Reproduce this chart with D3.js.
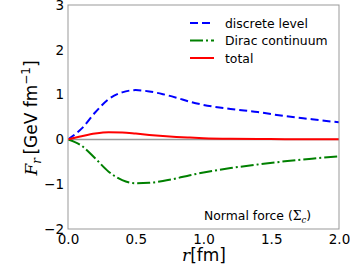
<!DOCTYPE html>
<html>
<head>
<meta charset="utf-8">
<script src="https://cdn.jsdelivr.net/npm/d3@7"></script>
<style>
  body { margin: 0; background: #fff; }
  text { font-family: "DejaVu Sans", sans-serif; }
</style>
</head>
<body>
<div id="chart"></div>
<script>
var rValues = [0, 0.1, 0.2, 0.3, 0.4, 0.5, 0.6, 0.7, 0.8, 0.9, 1.0, 1.2, 1.4, 1.6, 1.8, 2.0];
var discrete = [0, 0.24, 0.60, 0.90, 1.05, 1.10, 1.07, 1.01, 0.93, 0.84, 0.77, 0.68, 0.61, 0.52, 0.45, 0.38];
var dirac = [0, -0.14, -0.42, -0.72, -0.91, -0.98, -0.97, -0.93, -0.87, -0.80, -0.74, -0.64, -0.56, -0.49, -0.43, -0.38];
var total = [0, 0.07, 0.13, 0.16, 0.155, 0.13, 0.10, 0.075, 0.055, 0.04, 0.028, 0.015, 0.01, 0.005, 0.003, 0.002];
var xTicks = [0, 0.5, 1.0, 1.5, 2.0];
var yTicks = [-2, -1, 0, 1, 2, 3];
var seriesNames = ["discrete level", "Dirac continuum", "total"];

var width = 350, height = 266;
var margin = {left: 68, right: 11, top: 5, bottom: 37};

var svg = d3.select("#chart").append("svg")
  .attr("width", width)
  .attr("height", height);

var x = d3.scaleLinear().domain([0, 2]).range([margin.left, width - margin.right]);
var y = d3.scaleLinear().domain([-2, 3]).range([height - margin.bottom, margin.top]);

// zero line
svg.append("line")
  .attr("x1", x(0)).attr("x2", x(2))
  .attr("y1", y(0)).attr("y2", y(0))
  .attr("stroke", "#999").attr("stroke-width", 1.5);

var series = [
  {name: seriesNames[0], values: discrete, color: "#0000ff", dash: "8,4"},
  {name: seriesNames[1], values: dirac, color: "#008000", dash: "13,3,2,3"},
  {name: seriesNames[2], values: total, color: "#ff0000", dash: null}
];

var line = d3.line()
  .x(function(d) { return x(d[0]); })
  .y(function(d) { return y(d[1]); })
  .curve(d3.curveMonotoneX);

svg.append("defs").append("clipPath").attr("id", "clip")
  .append("rect")
  .attr("x", x(0)).attr("y", y(3))
  .attr("width", x(2) - x(0)).attr("height", y(-2) - y(3));

series.forEach(function(s) {
  svg.append("path")
    .datum(rValues.map(function(r, i) { return [r, s.values[i]]; }))
    .attr("d", line)
    .attr("fill", "none")
    .attr("clip-path", "url(#clip)")
    .attr("stroke", s.color)
    .attr("stroke-width", 2)
    .attr("stroke-dasharray", s.dash);
});

// frame
svg.append("rect")
  .attr("x", x(0)).attr("y", y(3))
  .attr("width", x(2) - x(0)).attr("height", y(-2) - y(3))
  .attr("fill", "none").attr("stroke", "#999").attr("stroke-width", 1);

// axes (no tick marks)
var xAxis = svg.append("g")
  .attr("transform", "translate(0," + y(-2) + ")")
  .call(d3.axisBottom(x).tickValues(xTicks).tickSize(0).tickPadding(5)
    .tickFormat(d3.format(".1f")));
xAxis.select(".domain").remove();
xAxis.selectAll("text").attr("font-size", 13.5).attr("fill", "#000")
  .attr("font-family", "DejaVu Sans");

var yAxis = svg.append("g")
  .attr("transform", "translate(" + x(0) + ",0)")
  .call(d3.axisLeft(y).tickValues(yTicks).tickSize(0).tickPadding(4)
    .tickFormat(function(d) { return d < 0 ? "\u2212" + Math.abs(d) : d; }));
yAxis.select(".domain").remove();
yAxis.selectAll("text").attr("font-size", 13.5).attr("fill", "#000")
  .attr("font-family", "DejaVu Sans");

// axis labels
var xl = svg.append("text")
  .attr("x", 204).attr("y", 261)
  .attr("text-anchor", "middle")
  .attr("font-size", 17);
xl.append("tspan").attr("font-family", "DejaVu Serif").attr("font-style", "italic").text("r");
xl.append("tspan").text("[fm]");

var yl = svg.append("text")
  .attr("transform", "translate(37,118) rotate(-90)")
  .attr("text-anchor", "middle")
  .attr("font-size", 17);
yl.append("tspan").attr("font-family", "DejaVu Serif").attr("font-style", "italic").text("F");
yl.append("tspan").attr("font-family", "DejaVu Serif").attr("font-style", "italic")
  .attr("font-size", 12).attr("dy", 4).text("r");
yl.append("tspan").attr("dy", -4).text("\u2009[GeV fm");
yl.append("tspan").attr("font-size", 12).attr("dy", -7).text("\u22121");
yl.append("tspan").attr("dy", 7).text("]");

// legend
var legend = svg.append("g");
series.forEach(function(s, i) {
  var ly = 23 + i * 17.5;
  legend.append("line")
    .attr("x1", 190).attr("x2", 214)
    .attr("y1", ly).attr("y2", ly)
    .attr("stroke", s.color).attr("stroke-width", 2)
    .attr("stroke-dasharray", s.dash);
  legend.append("text")
    .attr("x", 225).attr("y", ly + 4.5)
    .attr("font-size", 12.4)
    .text(s.name);
});

// annotation
var note = svg.append("text")
  .attr("x", 204).attr("y", 220)
  .attr("font-size", 12.4);
note.append("tspan").text("Normal force (");
note.append("tspan").attr("font-family", "DejaVu Serif").text("\u03a3");
note.append("tspan").attr("font-family", "DejaVu Serif").attr("font-style", "italic")
  .attr("font-size", 8.5).attr("dy", 3).text("c");
note.append("tspan").attr("dy", -3).text(")");
</script>
</body>
</html>
